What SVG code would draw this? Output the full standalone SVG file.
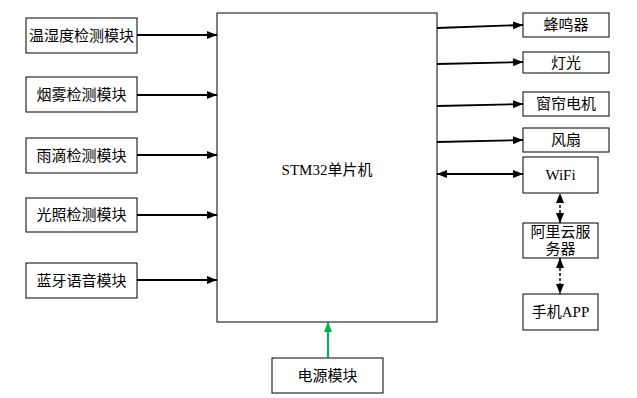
<svg xmlns="http://www.w3.org/2000/svg" width="637" height="398" viewBox="0 0 637 398">
<defs>
<style>
.box{fill:#fff;stroke:#000;stroke-width:1}
.t{font-family:"Liberation Serif","Noto Sans CJK SC",serif;font-size:15px;fill:#000;text-anchor:middle}
.c{stroke:#000;stroke-width:1.8;fill:none}
.d{stroke:#000;stroke-width:1.5;fill:none;stroke-dasharray:3,2}
.g{stroke:#00b050;stroke-width:2;fill:none}
</style>
<marker id="ah" viewBox="0 0 10 8" refX="10" refY="4" markerWidth="10" markerHeight="8" markerUnits="userSpaceOnUse" orient="auto-start-reverse"><path d="M0,0 L10,4 L0,8 z" fill="#000"/></marker>
<marker id="ahg" viewBox="0 0 10 8" refX="10" refY="4" markerWidth="10" markerHeight="8" markerUnits="userSpaceOnUse" orient="auto"><path d="M0,0 L10,4 L0,8 z" fill="#00b050"/></marker>
</defs>
<g id="mcu"><rect class="box" x="217" y="13" width="220" height="309"/><text class="t" x="327" y="175">STM32单片机</text></g>
<g id="n1"><rect class="box" x="26" y="18" width="111" height="35"/><text class="t" x="81.5" y="41">温湿度检测模块</text></g>
<g id="n2"><rect class="box" x="26" y="77" width="111" height="35"/><text class="t" x="81.5" y="100">烟雾检测模块</text></g>
<g id="n3"><rect class="box" x="26" y="138" width="111" height="35"/><text class="t" x="81.5" y="161">雨滴检测模块</text></g>
<g id="n4"><rect class="box" x="26" y="198" width="111" height="34"/><text class="t" x="81.5" y="220">光照检测模块</text></g>
<g id="n5"><rect class="box" x="26" y="263" width="111" height="35"/><text class="t" x="81.5" y="286">蓝牙语音模块</text></g>
<g id="o1"><rect class="box" x="523" y="13" width="86" height="24"/><text class="t" x="566" y="30">蜂鸣器</text></g>
<g id="o2"><rect class="box" x="523" y="52" width="86" height="21"/><text class="t" x="566" y="68">灯光</text></g>
<g id="o3"><rect class="box" x="523" y="92" width="86" height="24"/><text class="t" x="566" y="109">窗帘电机</text></g>
<g id="o4"><rect class="box" x="523" y="128" width="86" height="24"/><text class="t" x="566" y="145">风扇</text></g>
<g id="wifi"><rect class="box" x="523" y="157" width="75" height="36"/><text class="t" x="560.5" y="180">WiFi</text></g>
<g id="cloud"><rect class="box" x="523" y="223" width="75" height="35"/><text class="t" x="560.5" y="237">阿里云服</text><text class="t" x="560.5" y="254">务器</text></g>
<g id="app"><rect class="box" x="523" y="294" width="75" height="36"/><text class="t" x="560.5" y="317">手机APP</text></g>
<g id="power"><rect class="box" x="272" y="358" width="111" height="35"/><text class="t" x="327.5" y="381">电源模块</text></g>
<g id="connectors">
<line class="c" x1="137" y1="35" x2="217" y2="35" marker-end="url(#ah)"/>
<line class="c" x1="137" y1="95" x2="217" y2="95" marker-end="url(#ah)"/>
<line class="c" x1="137" y1="155" x2="217" y2="155" marker-end="url(#ah)"/>
<line class="c" x1="137" y1="215" x2="217" y2="215" marker-end="url(#ah)"/>
<line class="c" x1="137" y1="280" x2="217" y2="280" marker-end="url(#ah)"/>
<line class="c" x1="437" y1="28" x2="523" y2="25" marker-end="url(#ah)"/>
<line class="c" x1="437" y1="64" x2="523" y2="62" marker-end="url(#ah)"/>
<line class="c" x1="437" y1="106" x2="523" y2="104" marker-end="url(#ah)"/>
<line class="c" x1="437" y1="142" x2="523" y2="140" marker-end="url(#ah)"/>
<line class="c" x1="437" y1="174" x2="523" y2="174" marker-start="url(#ah)" marker-end="url(#ah)"/>
<line class="d" x1="560" y1="223" x2="560" y2="193" marker-start="url(#ah)" marker-end="url(#ah)"/>
<line class="d" x1="560" y1="258" x2="560" y2="294" marker-start="url(#ah)" marker-end="url(#ah)"/>
<line class="g" x1="328" y1="358" x2="328" y2="322" marker-end="url(#ahg)"/>
</g>
</svg>
